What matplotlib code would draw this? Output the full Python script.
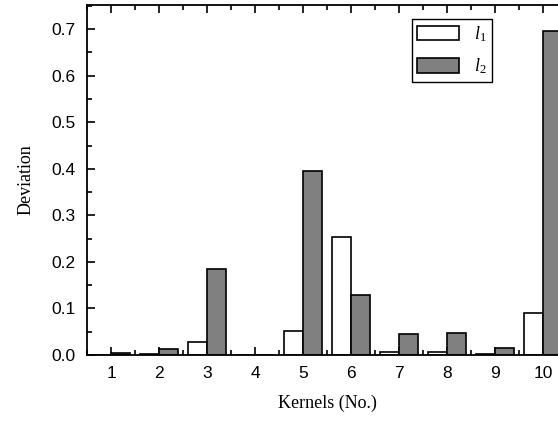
import matplotlib
matplotlib.use("Agg")
import matplotlib.pyplot as plt
import numpy as np
from matplotlib.ticker import MultipleLocator

kernels = [1, 2, 3, 4, 5, 6, 7, 8, 9, 10]
l1 = [0.001, 0.002, 0.028, 0.0, 0.052, 0.253, 0.006, 0.006, 0.003, 0.090]
l2 = [0.004, 0.013, 0.185, 0.0, 0.395, 0.129, 0.046, 0.047, 0.016, 0.697]
series_labels = [r"$\mathit{l}_{1}$", r"$\mathit{l}_{2}$"]
yticks = [0.0, 0.1, 0.2, 0.3, 0.4, 0.5, 0.6, 0.7]

plt.rcParams["mathtext.fontset"] = "custom"
plt.rcParams["mathtext.rm"] = "Liberation Serif"
plt.rcParams["mathtext.it"] = "Liberation Serif:italic"

W, H = 558, 422
fig = plt.figure(figsize=(W / 100, H / 100), dpi=100)
ax = fig.add_axes([87 / W, 1 - 355 / H, (567 - 87) / W, (355 - 5) / H])

x = np.array(kernels)
w = 0.4
ax.bar(x - w / 2, l1, width=w, color="white", edgecolor="black", linewidth=1.2,
       label=series_labels[0], zorder=2)
ax.bar(x + w / 2, l2, width=w, color="#808080", edgecolor="black", linewidth=1.2,
       label=series_labels[1], zorder=2)

ax.set_xlim(0.5, 10.5)
ax.set_ylim(0, 0.752)
ax.set_xticks(kernels)
ax.set_xticklabels([str(k) for k in kernels])
ax.set_yticks(yticks)
ax.set_yticklabels([f"{v:.1f}" for v in yticks])
ax.xaxis.set_minor_locator(MultipleLocator(0.5))
ax.yaxis.set_minor_locator(MultipleLocator(0.05))

ax.tick_params(which="both", direction="in", top=True, right=True, width=1.2)
ax.tick_params(which="major", length=6, pad=8, labelsize=12.5)
ax.tick_params(which="minor", length=3.5)
for lab in ax.get_xticklabels() + ax.get_yticklabels():
    lab.set_fontfamily("Liberation Sans")
for s in ax.spines.values():
    s.set_linewidth(1.3)

ax.set_xlabel("Kernels (No.)", fontfamily="Liberation Serif", fontsize=13, labelpad=10)
ax.set_ylabel("Deviation", fontfamily="Liberation Serif", fontsize=13, labelpad=12)

leg = ax.legend(loc="upper left", bbox_to_anchor=(412 / W, 1 - 19 / H),
                bbox_transform=fig.transFigure, borderaxespad=0, fancybox=False,
                edgecolor="black", framealpha=1, fontsize=13, handlelength=2.3,
                handleheight=0.85, labelspacing=0.7, borderpad=0.3, handletextpad=0.85)
leg.get_frame().set_linewidth(1.0)

fig.savefig("out.png", dpi=100)
